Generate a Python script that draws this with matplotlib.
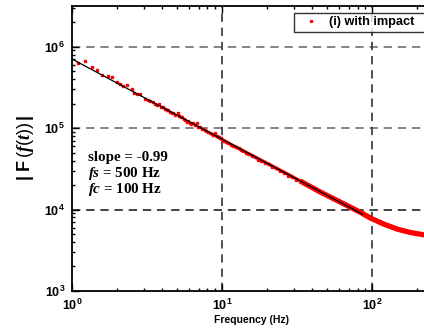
import matplotlib
matplotlib.use("Agg")
import matplotlib.pyplot as plt
from matplotlib.ticker import FixedLocator, FixedFormatter, LogLocator, NullFormatter

plt.rcParams['mathtext.fontset'] = 'custom'
plt.rcParams['mathtext.rm'] = 'Liberation Sans'
plt.rcParams['mathtext.bf'] = 'Liberation Sans:bold'
plt.rcParams['mathtext.it'] = 'Liberation Serif:italic:bold'
plt.rcParams['font.family'] = ['Liberation Sans', 'DejaVu Sans']

# Sparse low-frequency spectrum samples (Hz, |F|)
freq_low = [1.10, 1.23, 1.35, 1.47, 1.59, 1.73, 1.84, 1.99, 2.08, 2.20, 2.34, 2.50, 2.60, 2.72, 2.84,
            3.07, 3.19, 3.31, 3.45, 3.57, 3.68, 3.80, 3.93, 4.06, 4.18, 4.30, 4.39, 4.52, 4.64, 4.74,
            4.88, 5.07, 5.17, 5.29, 5.39, 5.54, 5.66, 5.82, 5.94, 6.12, 6.23, 6.44, 6.57, 6.78, 6.90,
            7.08, 7.32, 7.44, 7.70, 7.82, 8.06, 8.32, 8.55, 8.75, 8.98, 9.28, 9.52, 9.77,
            10.2, 10.6, 11.0, 11.4, 11.9, 12.3, 12.9, 13.3, 13.9, 14.5, 15.0, 15.8, 16.6, 17.5, 18.3,
            19.4, 20.5, 21.6, 23.0, 24.3, 25.9, 27.5, 29.2, 31.0]
mag_low = [6.26e5, 6.62e5, 5.69e5, 5.18e5, 4.55e5, 4.41e5, 4.28e5, 3.72e5, 3.48e5, 3.30e5, 3.36e5, 3.00e5, 2.68e5, 2.62e5, 2.61e5,
           2.26e5, 2.20e5, 2.17e5, 2.08e5, 2.00e5, 1.93e5, 1.98e5, 1.80e5, 1.84e5, 1.72e5, 1.66e5, 1.67e5, 1.58e5, 1.53e5, 1.55e5,
           1.46e5, 1.52e5, 1.40e5, 1.36e5, 1.36e5, 1.30e5, 1.26e5, 1.20e5, 1.21e5, 1.17e5, 1.14e5, 1.15e5, 1.09e5, 1.17e5, 1.04e5,
           1.02e5, 9.70e4, 9.75e4, 9.50e4, 9.20e4, 9.05e4, 8.80e4, 8.45e4, 8.35e4, 8.65e4, 7.90e4, 7.75e4, 7.60e4,
           7.05e4, 6.75e4, 6.65e4, 6.25e4, 6.10e4, 5.85e4, 5.65e4, 5.40e4, 5.25e4, 4.95e4, 4.85e4, 4.50e4, 4.40e4, 4.10e4, 4.00e4,
           3.70e4, 3.58e4, 3.35e4, 3.20e4, 2.98e4, 2.85e4, 2.62e4, 2.52e4, 2.34e4]

# Dense high-frequency band (Hz, |F|)
freq_band = [9.0, 11.3, 15.4, 20.9, 28.4, 33.1, 45.0, 61.2, 83.2, 98.0, 120, 147.5, 181, 222, 251]
mag_band = [8.10e4, 6.40e4, 4.75e4, 3.54e4, 2.63e4, 2.25e4, 1.65e4, 1.24e4, 9.30e3, 7.84e3, 6.62e3, 5.75e3, 5.22e3, 4.89e3, 4.78e3]

# Linear fit (log-log), slope -0.99
fit_f = [1.0, 86.2]
fit_mag = [7.06e5, 8.78e3]

xticks = [1, 10, 100]
xticklabels = [r'$\mathbf{10^{0}}$', r'$\mathbf{10^{1}}$', r'$\mathbf{10^{2}}$']
yticks = [1e3, 1e4, 1e5, 1e6]
yticklabels = [r'$\mathbf{10^{3}}$', r'$\mathbf{10^{4}}$', r'$\mathbf{10^{5}}$', r'$\mathbf{10^{6}}$']

fig = plt.figure(figsize=(4.24, 3.33), dpi=100)
ax = fig.add_axes([72/424, 42/333, 360/424, 285/333])
ax.set_xscale('log')
ax.set_yscale('log')
ax.set_xlim(1, 251)
ax.set_ylim(1e3, 10**6.5)

# grid lines
for yv, c in [(1e4, '#222222'), (1e5, '#707070'), (1e6, '#707070')]:
    ax.axhline(yv, color=c, lw=1.2, ls=(0, (5, 3.5)), zorder=1)
for xv in [10, 100]:
    ax.axvline(xv, color='#333333', lw=1.2, ls=(0, (5, 3.5)), zorder=1)

ax.plot(freq_band[:6], mag_band[:6], color='red', lw=2.4, zorder=2, solid_capstyle='butt')
ax.plot(freq_band[5:], mag_band[5:], color='red', lw=3.8, zorder=2, solid_capstyle='butt')
ax.plot(freq_low, mag_low, ls='none', marker='s', ms=1.7, color='red', mec='red', zorder=3,
        label='(i) with impact   ')
ax.plot(fit_f, fit_mag, color='black', lw=0.9, zorder=4)

ax.xaxis.set_major_locator(FixedLocator(xticks))
ax.xaxis.set_major_formatter(FixedFormatter(xticklabels))
ax.yaxis.set_major_locator(FixedLocator(yticks))
ax.yaxis.set_major_formatter(FixedFormatter(yticklabels))
ax.xaxis.set_minor_locator(LogLocator(base=10, subs=range(2, 10)))
ax.yaxis.set_minor_locator(LogLocator(base=10, subs=range(2, 10)))
ax.xaxis.set_minor_formatter(NullFormatter())
ax.yaxis.set_minor_formatter(NullFormatter())
ax.tick_params(which='both', direction='in', top=True, right=False, labelsize=9, width=1.0)
ax.tick_params(which='major', length=5, pad=5)
ax.tick_params(which='minor', length=2.5)
for s in ax.spines.values():
    s.set_linewidth(1.3)

ax.set_xlabel('Frequency (Hz)', fontsize=7.5, fontweight='bold', labelpad=1)
ax.set_ylabel(r'$\mathbf{|\ F\,}\mathit{(f(t))}\mathbf{\,|}$', fontsize=13, labelpad=6)

tkw = dict(transform=ax.transAxes, fontsize=10.8, fontweight='bold',
           family=['Liberation Serif', 'DejaVu Serif'])
ax.text(0.045, 0.455, 'slope = -0.99', **tkw)
ax.text(0.045, 0.40, r'$fs$ = 500 Hz', **tkw)
ax.text(0.045, 0.345, r'$fc$ = 100 Hz', **tkw)

leg = ax.legend(loc='upper left', bbox_to_anchor=(0.617, 0.975), prop={'weight': 'bold', 'size': 9.2},
                frameon=True, fancybox=False, numpoints=1, markerscale=0.8, handlelength=2.16,
                borderpad=0.25, borderaxespad=0.0, handletextpad=0.33)
leg.get_frame().set_edgecolor('black')
leg.get_frame().set_linewidth(1.0)

fig.savefig('out.png', dpi=100)
